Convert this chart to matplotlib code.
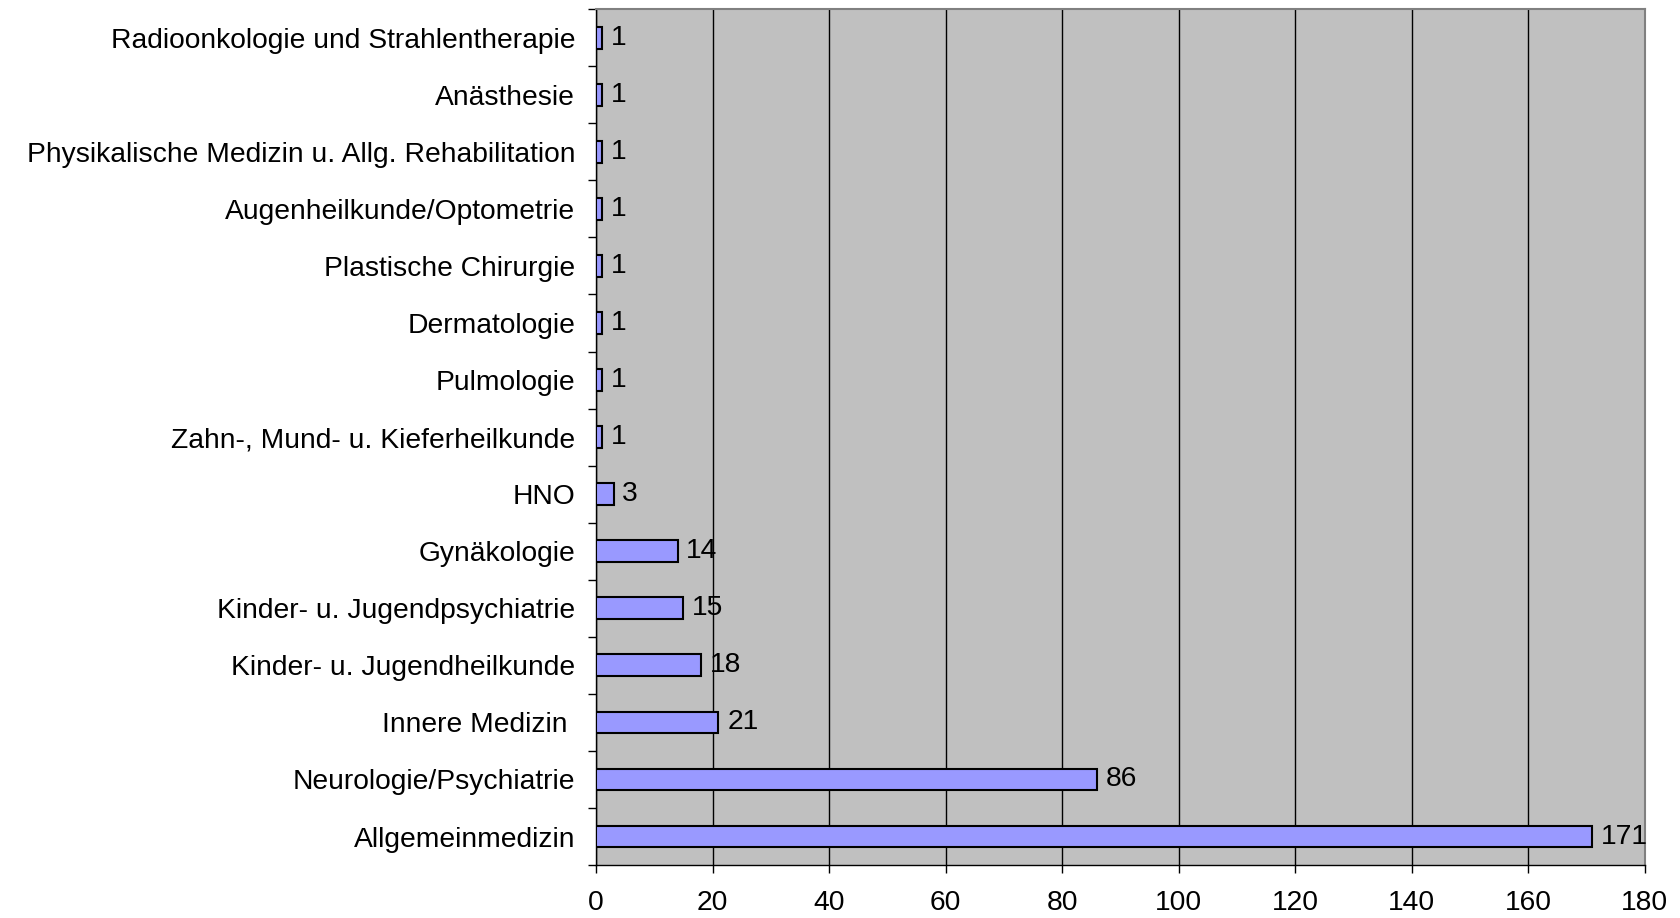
#!/usr/bin/env python3

import matplotlib
matplotlib.use("Agg")
import matplotlib.pyplot as plt
import numpy as np

categories = [
  "Allgemeinmedizin",
  "Neurologie/Psychiatrie",
  "Innere Medizin ",
  "Kinder- u. Jugendheilkunde",
  "Kinder- u. Jugendpsychiatrie",
  "Gynäkologie",
  "HNO",
  "Zahn-, Mund- u. Kieferheilkunde",
  "Pulmologie",
  "Dermatologie",
  "Plastische Chirurgie",
  "Augenheilkunde/Optometrie",
  "Physikalische Medizin u. Allg. Rehabilitation",
  "Anästhesie",
  "Radioonkologie und Strahlentherapie",
]
counts = [171, 86, 21, 18, 15, 14, 3, 1, 1, 1, 1, 1, 1, 1, 1]
xticks = [0, 20, 40, 60, 80, 100, 120, 140, 160, 180]

plt.rcParams["font.family"] = ["Liberation Sans", "DejaVu Sans"]
fs = 20.3

fig = plt.figure(figsize=(16.8, 9.18), dpi=100)
ax = fig.add_axes([0.3548, 0.0577, 0.979 - 0.3548, 0.990 - 0.0577])
ax.set_facecolor("#c0c0c0")

index = np.arange(len(categories))
rects = ax.barh(
  index,
  counts,
  0.38,
  color="#9999ff",
  edgecolor="black",
  linewidth=1.5,
  zorder=3
)
for rect, c in zip(rects, counts):
  ax.text(
    rect.get_width() + 1.5,
    rect.get_y() + rect.get_height()/2,
    str(c),
    ha="left",
    va="center",
    fontsize=fs,
    zorder=4
  )

ax.set_xlim(0, 180)
ax.set_ylim(-0.5, len(categories) - 0.5)
ax.set_xticks(xticks)
ax.set_xticklabels([str(t) for t in xticks], fontsize=fs)
ax.xaxis.grid(True, color="black", linewidth=1)
ax.set_axisbelow(True)

ax.set_yticks(index)
ax.set_yticklabels(categories, fontsize=fs)
ax.set_yticks(np.arange(len(categories) + 1) - 0.5, minor=True)
ax.tick_params(axis="y", which="major", length=0, pad=15)
ax.tick_params(axis="y", which="minor", length=6, width=1)
ax.tick_params(axis="x", which="major", length=6, width=1, pad=12)

for s in ["left", "bottom"]:
  ax.spines[s].set_color("black")
  ax.spines[s].set_linewidth(1)
for s in ["top", "right"]:
  ax.spines[s].set_color("#808080")
  ax.spines[s].set_linewidth(1.5)

fig.savefig("out.png", dpi=100, facecolor="white")
